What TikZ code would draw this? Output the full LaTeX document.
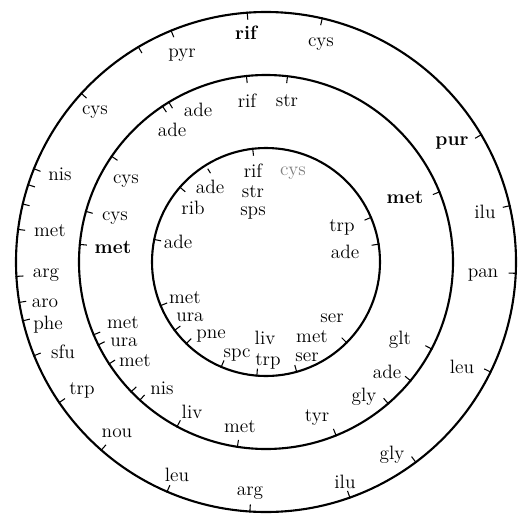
\documentclass[tikz,border=0pt]{standalone}
\usepackage{tikz}

\begin{document}
\begin{tikzpicture}[
		ring/.style={line width=1.2pt},
		tickmark/.style={line width=0.6pt},
		gene/.style={font=\fontsize{11}{12}\selectfont, inner sep=0pt},
		bgene/.style={font=\fontsize{11}{12}\selectfont\bfseries, inner sep=0pt},
		faint/.style={gene, text=black!50}]

		\useasboundingbox (-5.32,-5.12) rectangle (5.16,5.24);

		% ── three maps ──
		\draw[ring] (0,0) circle (5.0);
		\draw[ring] (0,0) circle (3.74);
		\draw[ring] (0,0) circle (2.28);

		% ── ticks ──
		\foreach \a in {94.3,77,112.3,120.7,137.6,158.1,162,166.6,172.5,183.3,189.3,193.6,
				202,214.2,228.8,246.7,266.3,289.6,306.8,333.9,357.4,13,30.6}
			\draw[tickmark] (\a:5.02) -- (\a:4.86);
		\foreach \a in {96,83.4,121.3,123.6,145.6,164.3,174.6,202.9,206.3,213,223.9,227.6,
				241.6,261.2,292,310.8,320.6,332.3,22}
			\draw[tickmark] (\a:3.76) -- (\a:3.60);
		\foreach \a in {96.7,139,168.6,202.5,216.8,225.7,246.9,265.4,285.6,315,9,23}
			\draw[tickmark] (\a:2.30) -- (\a:2.14);
		\draw[tickmark, densely dashed] (122:2.20) -- (122:2.04);

		% ── outer map ──
		\node[bgene] (o-rif) at (-0.40,4.58) {rif};
		\node[gene] (o-cys1) at (1.10,4.36) {cys};
		\node[gene] (o-pyr) at (-1.68,4.14) {pyr};
		\node[gene] (o-cys2) at (-3.42,3.00) {cys};
		\node[gene] (o-nis) at (-4.12,1.76) {nis};
		\node[gene] (o-met) at (-4.32,0.62) {met};
		\node[gene] (o-arg1) at (-4.40,-0.26) {arg};
		\node[gene] (o-aro) at (-4.42,-0.82) {aro};
		\node[gene] (o-phe) at (-4.36,-1.26) {phe};
		\node[gene] (o-sfu) at (-4.06,-1.80) {sfu};
		\node[gene] (o-trp) at (-3.68,-2.56) {trp};
		\node[gene] (o-nou) at (-2.98,-3.42) {nou};
		\node[gene] (o-leu1) at (-1.78,-4.26) {leu};
		\node[gene] (o-arg2) at (-0.32,-4.62) {arg};
		\node[gene] (o-ilu1) at (1.58,-4.40) {ilu};
		\node[gene] (o-gly) at (2.52,-3.86) {gly};
		\node[gene] (o-leu2) at (3.92,-2.10) {leu};
		\node[gene] (o-pan) at (4.34,-0.26) {pan};
		\node[gene] (o-ilu2) at (4.38,1.00) {ilu};
		\node[bgene] (o-pur) at (3.72,2.38) {pur};

		% ── middle map ──
		\node[gene] (m-rif) at (-0.38,3.22) {rif};
		\node[gene] (m-str) at (0.42,3.22) {str};
		\node[gene] (m-ade1) at (-1.36,3.04) {ade};
		\node[gene] (m-ade2) at (-1.88,2.64) {ade};
		\node[gene] (m-cys1) at (-2.80,1.62) {cys};
		\node[gene] (m-cys2) at (-3.02,0.88) {cys};
		\node[bgene] (m-met1) at (-3.06,0.30) {met};
		\node[gene] (m-met2) at (-2.86,-1.22) {met};
		\node[gene] (m-ura) at (-2.84,-1.60) {ura};
		\node[gene] (m-met3) at (-2.62,-1.98) {met};
		\node[gene] (m-nis) at (-2.08,-2.52) {nis};
		\node[gene] (m-liv) at (-1.48,-3.00) {liv};
		\node[gene] (m-met4) at (-0.52,-3.30) {met};
		\node[gene] (m-tyr) at (1.02,-3.12) {tyr};
		\node[gene] (m-gly) at (1.96,-2.70) {gly};
		\node[gene] (m-ade3) at (2.42,-2.20) {ade};
		\node[gene] (m-glt) at (2.68,-1.56) {glt};
		\node[bgene] (m-met5) at (2.78,1.30) {met};

		% ── inner map ──
		\node[gene] (i-rif) at (-0.26,1.82) {rif};
		\node[gene] (i-str) at (-0.26,1.40) {str};
		\node[gene] (i-sps) at (-0.26,0.98) {sps};
		\node[faint] (i-cys) at (0.54,1.78) {cys};
		\node[gene] (i-ade1) at (-1.12,1.50) {ade};
		\node[gene] (i-rib) at (-1.46,1.08) {rib};
		\node[gene] (i-ade2) at (-1.76,0.40) {ade};
		\node[gene] (i-met1) at (-1.62,-0.72) {met};
		\node[gene] (i-ura) at (-1.52,-1.10) {ura};
		\node[gene] (i-pne) at (-1.10,-1.48) {pne};
		\node[gene] (i-spc) at (-0.58,-1.86) {spc};
		\node[gene] (i-trp1) at (0.04,-1.98) {trp};
		\node[gene] (i-ser1) at (0.82,-1.90) {ser};
		\node[gene] (i-liv) at (-0.02,-1.52) {liv};
		\node[gene] (i-met2) at (0.92,-1.50) {met};
		\node[gene] (i-ser2) at (1.32,-1.12) {ser};
		\node[gene] (i-ade3) at (1.58,0.20) {ade};
		\node[gene] (i-trp2) at (1.52,0.70) {trp};

	\end{tikzpicture}
\end{document}
